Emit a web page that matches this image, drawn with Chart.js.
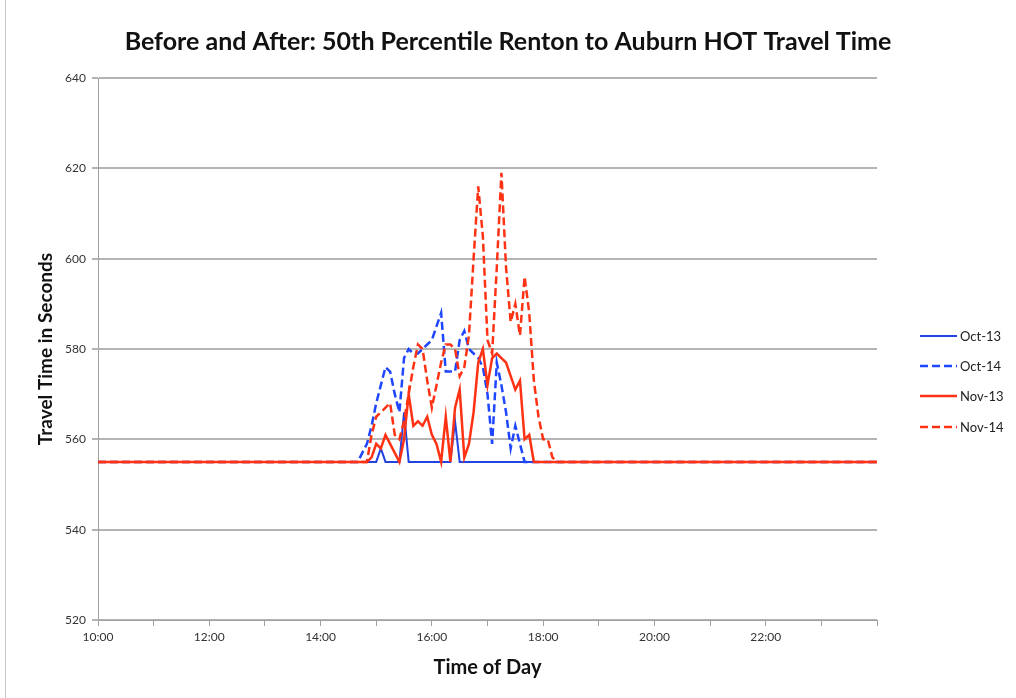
<!DOCTYPE html>
<html>
<head>
<meta charset="utf-8">
<script src="https://cdn.jsdelivr.net/npm/chart.js@4.4.0/dist/chart.umd.min.js"></script>
<style>
    html, body { margin: 0; padding: 0; background: #fff; }
    #wrap { position: relative; width: 1016px; height: 698px; }
    #edge { position: absolute; left: 5px; top: 0; width: 1px; height: 698px; background: #c8c8c8; }
</style>
</head>
<body>
<div id="wrap">
    <canvas id="travelChart"></canvas>
    <div id="edge"></div>
</div>
<script>
// time of day (5 min steps around the peak, flat 555 s before and after)
const times = ['10:00',
    '14:35', '14:40', '14:45', '14:50', '14:55', '15:00', '15:05', '15:10', '15:15', '15:20',
    '15:25', '15:30', '15:35', '15:40', '15:45', '15:50', '15:55', '16:00', '16:05', '16:10',
    '16:15', '16:20', '16:25', '16:30', '16:35', '16:40', '16:45', '16:50', '16:55', '17:00',
    '17:05', '17:10', '17:15', '17:20', '17:25', '17:30', '17:35', '17:40', '17:45', '17:50',
    '17:55', '18:00', '18:05', '18:10', '18:15',
    '24:00'];

const oct13 = [555,
    555, 555, 555, 555, 555, 555, 558, 555, 555, 555,
    555, 566, 555, 555, 555, 555, 555, 555, 555, 555,
    555, 555, 564, 555, 555, 555, 555, 555, 555, 555,
    555, 555, 555, 555, 555, 555, 555, 555, 555, 555,
    555, 555, 555, 555, 555,
    555];

const oct14 = [555,
    555, 555, 557, 559, 563, 568, 572, 576, 575, 570,
    566, 578, 580, 579, 579, 580, 581, 582, 585, 588,
    575, 575, 575, 582, 584, 580, 579, 578, 576, 570,
    559, 577, 572, 566, 558, 563, 559, 555, 555, 555,
    555, 555, 555, 555, 555,
    555];

const nov13 = [555,
    555, 555, 555, 555, 556, 559, 558, 561, 559, 557,
    555, 560, 570, 563, 564, 563, 565, 561, 559, 555,
    565, 555, 567, 571, 556, 559, 566, 577, 580, 572,
    578, 579, 578, 577, 574, 571, 573, 560, 561, 555,
    555, 555, 555, 555, 555,
    555];

const nov14 = [555,
    555, 555, 555, 555, 561, 565, 566, 567, 568, 561,
    560, 564, 570, 576, 581, 580, 573, 567, 572, 577,
    581, 581, 580, 574, 576, 583, 600, 616, 605, 582,
    579, 598, 619, 598, 586, 590, 583, 596, 588, 573,
    565, 560, 560, 556, 555,
    555];

const yTicks = [520, 540, 560, 580, 600, 620, 640];

function toHours(t) {
    const parts = t.split(':');
    return Number(parts[0]) + Number(parts[1]) / 60;
}

function points(values) {
    return values.map((v, i) => ({ x: toHours(times[i]), y: v }));
}

const BLUE = '#2442e0';
const BLUE_DASH = '#1f46ff';
const RED = '#ff3214';

// legend drawn at the right, like the spreadsheet chart
const sideLegend = {
    id: 'sideLegend',
    afterDraw(chart) {
        const ctx = chart.ctx;
        const rows = [336, 366, 396, 427];
        ctx.save();
        chart.data.datasets.forEach((ds, i) => {
            const y = rows[i];
            ctx.beginPath();
            ctx.setLineDash(ds.borderDash || []);
            ctx.lineWidth = ds.borderWidth;
            ctx.strokeStyle = ds.borderColor;
            ctx.moveTo(920, y);
            ctx.lineTo(957, y);
            ctx.stroke();
            ctx.setLineDash([]);
            ctx.fillStyle = '#222';
            ctx.font = '13px Lato, sans-serif';
            ctx.textBaseline = 'middle';
            ctx.fillText(ds.label, 960, y + 1);
        });
        ctx.restore();
    }
};

const ctx = document.getElementById('travelChart').getContext('2d');
new Chart(ctx, {
    type: 'line',
    data: {
        datasets: [
            { label: 'Oct-13', data: points(oct13), borderColor: BLUE, borderWidth: 2, order: 4 },
            { label: 'Oct-14', data: points(oct14), borderColor: BLUE_DASH, borderWidth: 2.5, borderDash: [8, 4], order: 3 },
            { label: 'Nov-13', data: points(nov13), borderColor: RED, borderWidth: 2.5, order: 1 },
            { label: 'Nov-14', data: points(nov14), borderColor: RED, borderWidth: 2.5, borderDash: [8, 4], order: 2 }
        ]
    },
    options: {
        responsive: true,
        maintainAspectRatio: false,
        animation: false,
        elements: {
            point: { radius: 0 },
            line: { tension: 0, fill: false }
        },
        layout: { padding: 0 },
        plugins: {
            legend: { display: false },
            tooltip: { enabled: false },
            title: {
                display: true,
                text: 'Before and After: 50th Percentile Renton to Auburn HOT Travel Time',
                color: '#111',
                font: { family: 'Lato', size: 25, weight: 'bold' },
                padding: { top: 27, bottom: 21 }
            }
        },
        scales: {
            x: {
                type: 'linear',
                min: 10,
                max: 24,
                afterFit: scale => { scale.height = 78; },
                ticks: {
                    stepSize: 1,
                    autoSkip: false,
                    maxRotation: 0,
                    color: '#333',
                    font: { family: 'Lato', size: 12 },
                    padding: 4,
                    callback: v => (v % 2 === 0 && v < 24) ? v + ':00' : ''
                },
                grid: { drawOnChartArea: false, color: '#a0a0a0', tickLength: 6 },
                border: { color: '#a0a0a0', width: 1 },
                title: {
                    display: true,
                    text: 'Time of Day',
                    color: '#111',
                    font: { family: 'Lato', size: 20, weight: 'bold' },
                    padding: { top: 0, bottom: 18 }
                }
            },
            y: {
                min: 520,
                max: 640,
                afterFit: scale => { scale.width = 98; },
                afterBuildTicks: scale => { scale.ticks = yTicks.map(v => ({ value: v })); },
                ticks: {
                    color: '#333',
                    font: { family: 'Lato', size: 12 },
                    padding: 6
                },
                grid: { color: '#b4b4b4', lineWidth: 2, tickLength: 6 },
                border: { color: '#a0a0a0', width: 1 },
                title: {
                    display: true,
                    text: 'Travel Time in Seconds',
                    color: '#111',
                    font: { family: 'Lato', size: 19, weight: 'bold' },
                    padding: { top: 34, bottom: 0 }
                }
            },
            // empty axis on the right keeps room for the legend
            side: {
                type: 'linear',
                position: 'right',
                min: 520,
                max: 640,
                afterFit: scale => { scale.width = 139; },
                ticks: { display: false },
                grid: { display: false, drawOnChartArea: false },
                border: { display: false }
            }
        }
    },
    plugins: [sideLegend]
});
</script>
</body>
</html>
